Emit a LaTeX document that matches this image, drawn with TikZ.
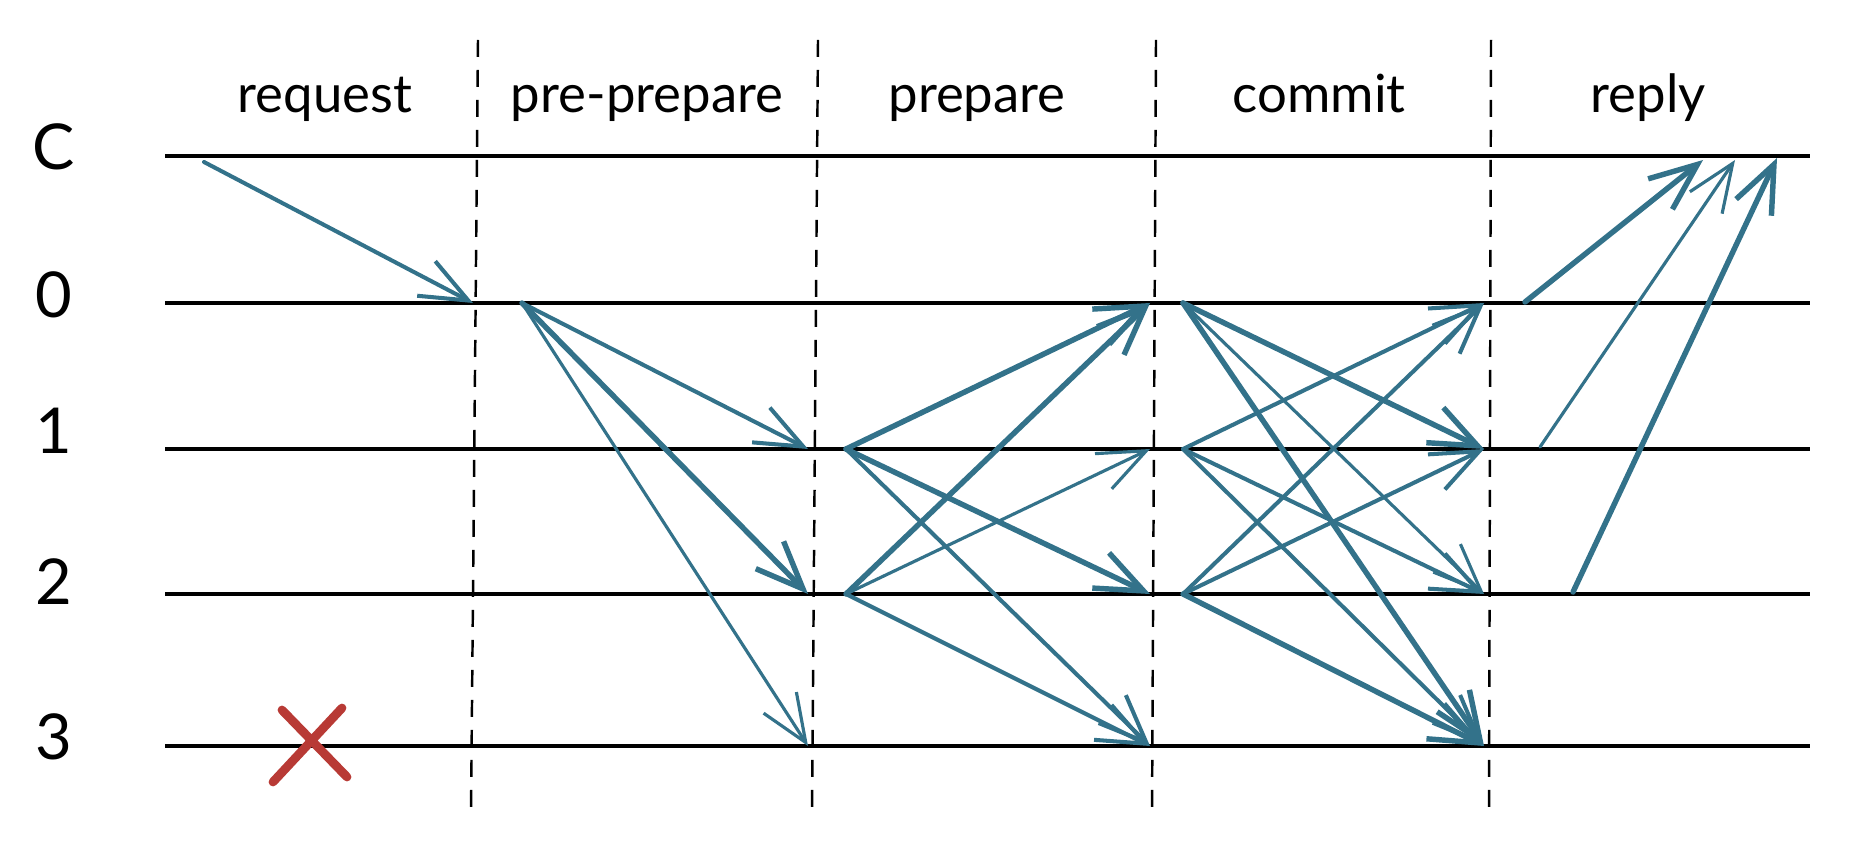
\documentclass[tikz,border=0pt]{standalone}
\usepackage{fontspec}
\setmainfont{Lato}
\usetikzlibrary{arrows.meta}
\definecolor{msgteal}{HTML}{33728A}
\definecolor{crossred}{HTML}{B83A35}

\begin{document}
\begin{tikzpicture}[x=0.02cm,y=-0.02cm,
    phase/.style={anchor=base,font=\fontsize{30}{36}\selectfont},
    replica/.style={anchor=base,font=\fontsize{36}{42}\selectfont},
    timeline/.style={line width=1.9pt},
    divider/.style={line width=1.4pt,dash pattern=on 0.34cm off 0.26cm},
    msg/.style={draw=msgteal,line width=2.3pt,line cap=round,
        -{Straight Barb[length=0.95cm,width=0.78cm]}},
    thinmsg/.style={msg,line width=1.8pt},
    bigmsg/.style={msg,line width=3.1pt}]
    \useasboundingbox (0,0) rectangle (1852,854);

    % phases
    \node[phase] (request) at (325,113) {request};
    \node[phase] (preprepare) at (647,113) {pre-prepare};
    \node[phase] (prepare) at (977,113) {prepare};
    \node[phase] (commit) at (1319,113) {commit};
    \node[phase] (reply) at (1648,113) {reply};

    % dividers between phases
    \foreach \k/\top/\bot in {1/478/471,2/818/812,3/1156/1152,4/1491/1489}
        \draw[divider] (\top,40) coordinate (div\k top) -- (\bot,815) coordinate (div\k bot);

    % replicas and their time lines
    \foreach \r/\y/\b in {C/156/170,0/303/318,1/449/454,2/594/604,3/746/759} {
        \node[replica] (lbl\r) at (54,\b) {\r};
        \coordinate (start\r) at (165,\y);
        \coordinate (end\r) at (1810,\y);
        \draw[timeline] (start\r) -- (end\r);
        % arrival / departure points at the dividers
        \coordinate (in\r-1) at (473,\y);
        \coordinate (in\r-2) at (808,\y);
        \coordinate (in\r-3) at (1150,\y);
        \coordinate (in\r-4) at (1484,\y);
        \coordinate (out\r-1) at (522,\y);
        \coordinate (out\r-2) at (846,\y);
        \coordinate (out\r-3) at (1183,\y);
    }

    % request
    \coordinate (client) at (204,162);
    \draw[msg] (client) -- (in0-1);

    % pre-prepare
    \draw[msg] (out0-1) -- (in1-2);
    \draw[bigmsg] (out0-1) -- (in2-2);
    \draw[thinmsg] (out0-1) -- (in3-2);

    % prepare
    \draw[bigmsg] (out1-2) -- (in0-3);
    \draw[bigmsg] (out1-2) -- (in2-3);
    \draw[msg] (out1-2) -- (in3-3);
    \draw[bigmsg] (out2-2) -- (in0-3);
    \draw[thinmsg] (out2-2) -- (in1-3);
    \draw[msg] (out2-2) -- (in3-3);

    % commit
    \draw[bigmsg] (out0-3) -- (in1-4);
    \draw[thinmsg] (out0-3) -- (in2-4);
    \draw[bigmsg] (out0-3) -- (in3-4);
    \draw[msg] (out1-3) -- (in0-4);
    \draw[msg] (out1-3) -- (in2-4);
    \draw[msg] (out1-3) -- (in3-4);
    \draw[msg] (out2-3) -- (in0-4);
    \draw[msg] (out2-3) -- (in1-4);
    \draw[bigmsg] (out2-3) -- (in3-4);

    % reply
    \coordinate (rep0) at (1525,302);
    \coordinate (rep1) at (1540,447);
    \coordinate (rep2) at (1573,592);
    \coordinate (got0) at (1703,160);
    \coordinate (got1) at (1735,160);
    \coordinate (got2) at (1777,158);
    \draw[bigmsg] (rep0) -- (got0);
    \draw[thinmsg] (rep1) -- (got1);
    \draw[bigmsg] (rep2) -- (got2);

    % replica 3 is faulty
    \draw[crossred,line width=5pt,line cap=round]
        (282,710) -- (347,777) (342,708) -- (273,782);
\end{tikzpicture}
\end{document}
